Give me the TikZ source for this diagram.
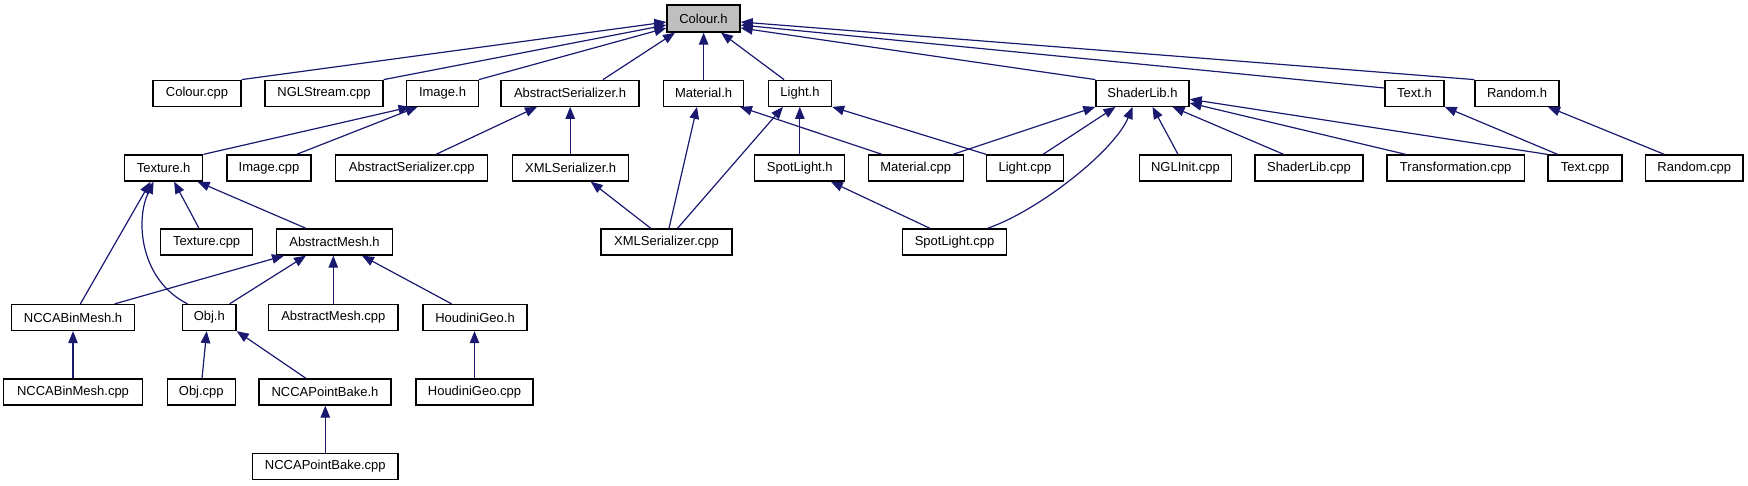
\documentclass[tikz,border=0pt]{standalone}
\usepackage{fontspec}
\setmainfont{Liberation Sans}
\usetikzlibrary{arrows.meta}
\definecolor{edgeblue}{HTML}{191970}
\definecolor{hlgray}{HTML}{BFBFBF}
\tikzset{
  box/.style={draw=black, line width=1.3pt, minimum height=26pt, inner sep=0pt, fill=white, font=\fontsize{13}{15}\selectfont},
  e/.style={draw=edgeblue, line width=1.2pt, -{Triangle[length=12pt,width=9.5pt]}},
}
\begin{document}
\begin{tikzpicture}[x=1pt,y=-1pt]
\useasboundingbox (0,0) rectangle (1748,485);
% row 1
\node[box, minimum width=73pt, minimum height=27pt, fill=hlgray] (colh) at (703.5,18.5) {Colour.h};
% row 2
\node[box, minimum width=88pt]  (colcpp)   at (197,93.25)    {Colour.cpp};
\node[box, minimum width=118pt] (nglcpp)   at (324,93.25)    {NGLStream.cpp};
\node[box, minimum width=71.5pt](imageh)   at (442.5,93.25)  {Image.h};
\node[box, minimum width=138pt] (abserh)   at (570,93.25)    {AbstractSerializer.h};
\node[box, minimum width=80pt]  (math)     at (703.6,93.25)  {Material.h};
\node[box, minimum width=63pt]  (lighth)   at (800,93.25)    {Light.h};
\node[box, minimum width=93pt]  (shaderh)  at (1142.5,93.25) {ShaderLib.h};
\node[box, minimum width=59pt]  (texth)    at (1414.5,93.25) {Text.h};
\node[box, minimum width=84pt]  (randomh)  at (1517,93.25)   {Random.h};
% row 3
\node[box, minimum width=78.4pt](textureh) at (163.6,168)  {Texture.h};
\node[box, minimum width=84pt]  (imagecpp) at (269,168)    {Image.cpp};
\node[box, minimum width=152pt] (abscpp)   at (411.8,168)  {AbstractSerializer.cpp};
\node[box, minimum width=116pt] (xmlh)     at (570.7,168)  {XMLSerializer.h};
\node[box, minimum width=90pt]  (spoth)    at (799.8,168)  {SpotLight.h};
\node[box, minimum width=95pt]  (matcpp)   at (915.8,168)  {Material.cpp};
\node[box, minimum width=76.5pt](lightcpp) at (1025,168)   {Light.cpp};
\node[box, minimum width=91.7pt](nglinit)  at (1185.4,168) {NGLInit.cpp};
\node[box, minimum width=108pt] (shadercpp)at (1309,168)   {ShaderLib.cpp};
\node[box, minimum width=137.6pt](transcpp)at (1455.7,168) {Transformation.cpp};
\node[box, minimum width=74pt]  (textcpp)  at (1585,168)   {Text.cpp};
\node[box, minimum width=97.5pt](randomcpp)at (1694.3,168) {Random.cpp};
% row 4
\node[box, minimum width=92pt]  (texcpp)   at (206.6,242)  {Texture.cpp};
\node[box, minimum width=115.5pt](ameshh)  at (334.5,242)  {AbstractMesh.h};
\node[box, minimum width=131pt] (xmlcpp)   at (666.5,242)  {XMLSerializer.cpp};
\node[box, minimum width=104.5pt](spotcpp) at (954.5,242)  {SpotLight.cpp};
% row 5
\node[box, minimum width=123pt] (nbinh)    at (73,317.5)   {NCCABinMesh.h};
\node[box, minimum width=53.6pt](objh)     at (209.3,317.5){Obj.h};
\node[box, minimum width=129.4pt](ameshcpp)at (333.3,317.5){AbstractMesh.cpp};
\node[box, minimum width=104pt] (houh)     at (475,317.5)  {HoudiniGeo.h};
% row 6
\node[box, minimum width=138.6pt](nbincpp) at (73,392)     {NCCABinMesh.cpp};
\node[box, minimum width=68pt]  (objcpp)   at (201.3,392)  {Obj.cpp};
\node[box, minimum width=132pt] (npbh)     at (325,392)    {NCCAPointBake.h};
\node[box, minimum width=117pt] (houcpp)   at (474.5,392)  {HoudiniGeo.cpp};
% row 7
\node[box, minimum width=145.4pt](npbcpp)  at (325.3,466.5){NCCAPointBake.cpp};

% edges into Colour.h
\draw[e] (colcpp.north east) -- ([yshift=-3.5pt]colh.west);
\draw[e] (nglcpp.north east) -- ([yshift=-6.5pt]colh.west);
\draw[e] (imageh.north east) -- ([yshift=-9.5pt]colh.west);
\draw[e] ([xshift=33pt]abserh.north) -- ([xshift=-28.5pt]colh.south);
\draw[e] (math.north) -- (math.north |- colh.south);
\draw[e] ([xshift=-16pt]lighth.north) -- ([xshift=17.5pt]colh.south);
\draw[e] (shaderh.north west) -- ([yshift=-9.5pt]colh.east);
\draw[e] ([yshift=5.25pt]texth.west) -- ([yshift=-6.5pt]colh.east);
\draw[e] (randomh.north west) -- ([yshift=-3.5pt]colh.east);
% Image.h
\draw[e] (textureh.north east) -- ([xshift=-32pt]imageh.south);
\draw[e] ([xshift=27.6pt]imagecpp.north) -- ([xshift=-25pt]imageh.south);
% AbstractSerializer.h
\draw[e] ([xshift=24.2pt]abscpp.north) -- ([xshift=-33pt]abserh.south);
\draw[e] ([xshift=-0.5pt]xmlh.north) -- ([xshift=0.2pt]abserh.south);
% Material.h
\draw[e] ([xshift=2.5pt]xmlcpp.north) -- ([xshift=-6.6pt]math.south);
\draw[e] ([xshift=-33.8pt]matcpp.north) -- ([xshift=36.4pt]math.south);
% Light.h
\draw[e] ([xshift=11pt]xmlcpp.north) -- ([xshift=-17pt]lighth.south);
\draw[e] (spoth.north) -- (spoth.north |- lighth.south);
\draw[e] (lightcpp.north west) -- (lighth.south east);
% ShaderLib.h
\draw[e] ([xshift=37.2pt]matcpp.north) -- (shaderh.south west);
\draw[e] ([xshift=18pt]lightcpp.north) -- ([xshift=-27pt]shaderh.south);
\draw[e] ([xshift=33pt]spotcpp.north) .. controls (1040,210) and (1115,150) .. ([xshift=-10pt]shaderh.south);
\draw[e] ([xshift=-7.4pt]nglinit.north) -- ([xshift=10pt]shaderh.south);
\draw[e] ([xshift=-25.3pt]shadercpp.north) -- ([xshift=30pt]shaderh.south);
\draw[e] ([xshift=-50pt]transcpp.north) -- ([yshift=-9.75pt]shaderh.east);
\draw[e] (textcpp.north west) -- ([yshift=-6pt]shaderh.east);
% Text.h, Random.h
\draw[e] ([xshift=-27.5pt]textcpp.north) -- (texth.south east);
\draw[e] ([xshift=-30pt]randomcpp.north) -- ([xshift=31pt]randomh.south);
% Texture.h
\draw[e] ([xshift=7.4pt]nbinh.north) -- ([xshift=-13pt]textureh.south);
\draw[e] ([xshift=-21.8pt]objh.north) .. controls (140,280) and (135,220) .. ([xshift=-10pt]textureh.south);
\draw[e] ([xshift=-7.6pt]texcpp.north) -- ([xshift=10.5pt]textureh.south);
\draw[e] ([xshift=-28.5pt]ameshh.north) -- ([xshift=34pt]textureh.south);
% AbstractMesh.h
\draw[e] ([xshift=41.8pt]nbinh.north) -- ([xshift=-50.5pt]ameshh.south);
\draw[e] ([xshift=20.3pt]objh.north) -- ([xshift=-28.5pt]ameshh.south);
\draw[e] (ameshcpp.north) -- (ameshcpp.north |- ameshh.south);
\draw[e] ([xshift=-23.4pt]houh.north) -- ([xshift=27.5pt]ameshh.south);
% XMLSerializer.h, SpotLight.h
\draw[e] ([xshift=-15.7pt]xmlcpp.north) -- ([xshift=20pt]xmlh.south);
\draw[e] ([xshift=-24.5pt]spotcpp.north) -- ([xshift=31pt]spoth.south);
% lower rows
\draw[e] (nbincpp.north) -- (nbincpp.north |- nbinh.south);
\draw[e] ([xshift=0.7pt]objcpp.north) -- ([xshift=-2.6pt]objh.south);
\draw[e] ([xshift=-19pt]npbh.north) -- (objh.south east);
\draw[e] (houcpp.north) -- (houcpp.north |- houh.south);
\draw[e] (npbcpp.north) -- (npbcpp.north |- npbh.south);
\end{tikzpicture}
\end{document}
